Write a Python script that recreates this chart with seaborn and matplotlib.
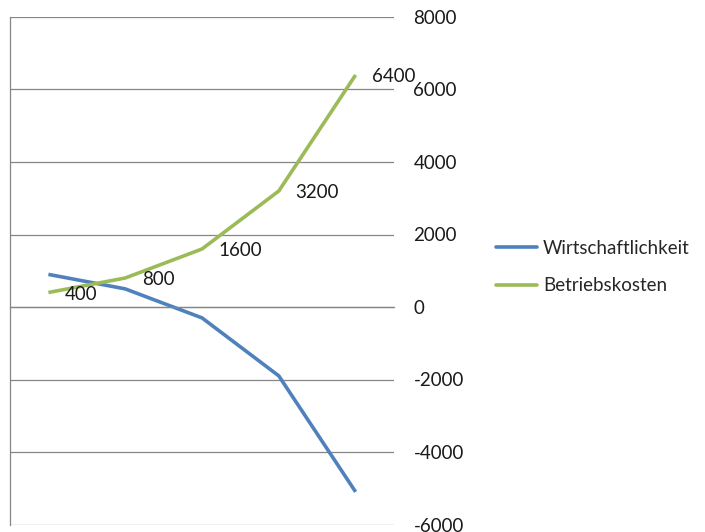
import pandas as pd
import seaborn as sns
import matplotlib
matplotlib.use('Agg')
import matplotlib.pyplot as plt

# Chart values.
categories = [1, 2, 3, 4, 5]
wirtschaftlichkeit = [900, 500, -300, -1900, -5100]
betriebskosten = [400, 800, 1600, 3200, 6400]
series_names = ['Wirtschaftlichkeit', 'Betriebskosten']
y_ticks = [-6000, -4000, -2000, 0, 2000, 4000, 6000, 8000]

colors = {'Wirtschaftlichkeit': '#4F81BD', 'Betriebskosten': '#9BBB59'}
grid_color = '#868686'

# Long table for seaborn.
df = pd.concat([
    pd.DataFrame({'x': range(len(categories)), 'y': wirtschaftlichkeit,
                  'type': series_names[0]}),
    pd.DataFrame({'x': range(len(categories)), 'y': betriebskosten,
                  'type': series_names[1]}),
])

sns.set_style('white')
plt.rcParams['font.family'] = ['Lato', 'DejaVu Sans']
fs = 13.5

fig = plt.figure(figsize=(7.05, 5.32), dpi=100)
ax = fig.add_axes([10 / 705, 1 - 524.5 / 532, (394 - 10) / 705, (524.5 - 17) / 532])

g = sns.lineplot(data=df, x='x', y='y', hue='type', palette=colors,
                 linewidth=2.6, ax=ax, legend=False)
for line in ax.lines:
    line.set_solid_capstyle('butt')

# Axes, grid and ticks in the Excel look.
ax.set_xlim(-0.5, len(categories) - 0.5)
ax.set_ylim(y_ticks[0], y_ticks[-1])
ax.set_yticks(y_ticks)
ax.set_yticklabels([str(t) for t in y_ticks], fontsize=fs, color='#1a1a1a')
ax.yaxis.tick_right()
ax.tick_params(axis='y', length=0, pad=14)
ax.yaxis.grid(True, color=grid_color, linewidth=0.9)
ax.set_axisbelow(True)

ax.set_xticks([i + 0.5 for i in range(len(categories))])
ax.set_xticklabels([])
ax.tick_params(axis='x', direction='inout', length=8, width=0.9, color=grid_color)
ax.spines['bottom'].set_position(('data', 0))
ax.spines['bottom'].set_color(grid_color)
ax.spines['bottom'].set_linewidth(0.9)
ax.spines['left'].set_color(grid_color)
ax.spines['left'].set_linewidth(0.9)
ax.spines['top'].set_visible(False)
ax.spines['right'].set_visible(False)
ax.set_xlabel('')
ax.set_ylabel('')

# Data labels for Betriebskosten.
for i, v in enumerate(betriebskosten):
    ax.annotate(str(v), (i, v), xytext=(12, 0), textcoords='offset points',
                ha='left', va='center_baseline', fontsize=fs, color='#1a1a1a')

# Legend on the right.
handles = [plt.Line2D([], [], color=colors[n], linewidth=2.6) for n in series_names]
fig.legend(handles, series_names, loc='center left',
           bbox_to_anchor=(496 / 705, 1 - 267 / 532), frameon=False,
           fontsize=fs, handlelength=2.2, handletextpad=0.3,
           labelspacing=1.1, borderpad=0, borderaxespad=0)

fig.savefig('out.png', dpi=100)
